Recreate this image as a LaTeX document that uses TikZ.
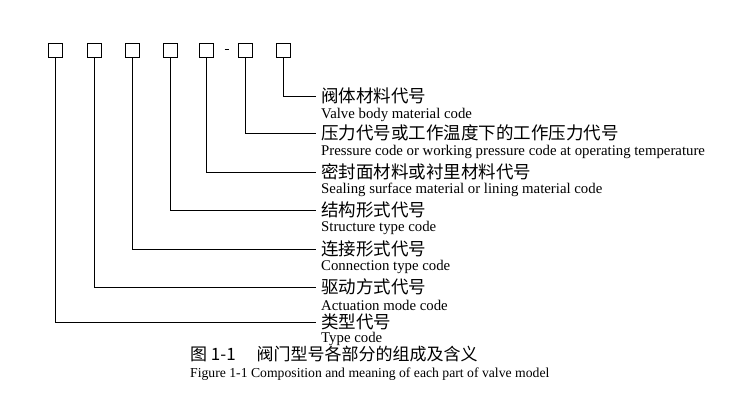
\documentclass[tikz,border=0pt]{standalone}
\usepackage{fontspec}
\setmainfont{Liberation Serif}
\newfontfamily\cjk{Noto Sans CJK SC}
\begin{document}
\begin{tikzpicture}[x=1pt,y=1pt,yscale=-1,
  codebox/.style={draw,minimum size=14pt,inner sep=0pt},
  zhlabel/.style={anchor=west,inner sep=1pt,font=\cjk\fontsize{17.5}{19}\selectfont},
  enlabel/.style={anchor=west,inner sep=1pt,font=\fontsize{14.8}{16}\selectfont}]
\useasboundingbox (0,0) rectangle (750,410);
% code boxes
\foreach \i/\x in {1/55.5,2/94,3/132,4/170,5/206,6/245,7/283}
  \node[codebox] (b\i) at (\x,50) {};
\draw (224.5,49) -- (228.5,49);
% labels
\node[zhlabel] (z7) at (320,96) {阀体材料代号};
\node[zhlabel] (z6) at (320,133) {压力代号或工作温度下的工作压力代号};
\node[zhlabel] (z5) at (320,172) {密封面材料或衬里材料代号};
\node[zhlabel] (z4) at (320,210) {结构形式代号};
\node[zhlabel] (z3) at (320,249) {连接形式代号};
\node[zhlabel] (z2) at (320,287) {驱动方式代号};
\node[zhlabel] (z1) at (320,322) {类型代号};
\node[enlabel] (e7) at (320,115) {Valve body material code};
\node[enlabel] (e6) at (320,152) {Pressure code or working pressure code at operating temperature};
\node[enlabel] (e5) at (320,190) {Sealing surface material or lining material code};
\node[enlabel] (e4) at (320,228) {Structure type code};
\node[enlabel] (e3) at (320,267) {Connection type code};
\node[enlabel] (e2) at (320,305) {Actuation mode code};
\node[enlabel] (e1) at (320,339) {Type code};
% leaders
\foreach \i in {1,...,7}
  \draw (b\i.south) |- ([xshift=-4pt]z\i.west);
% caption
\node[anchor=west,inner sep=0pt,font=\cjk\fontsize{17}{19}\selectfont] (cap) at (190,354) {图 1-1\quad\ 阀门型号各部分的组成及含义};
\node[anchor=west,inner sep=0pt,font=\fontsize{13.7}{15}\selectfont] (capen) at (190,374) {Figure 1-1 Composition and meaning of each part of valve model};
\end{tikzpicture}
\end{document}
